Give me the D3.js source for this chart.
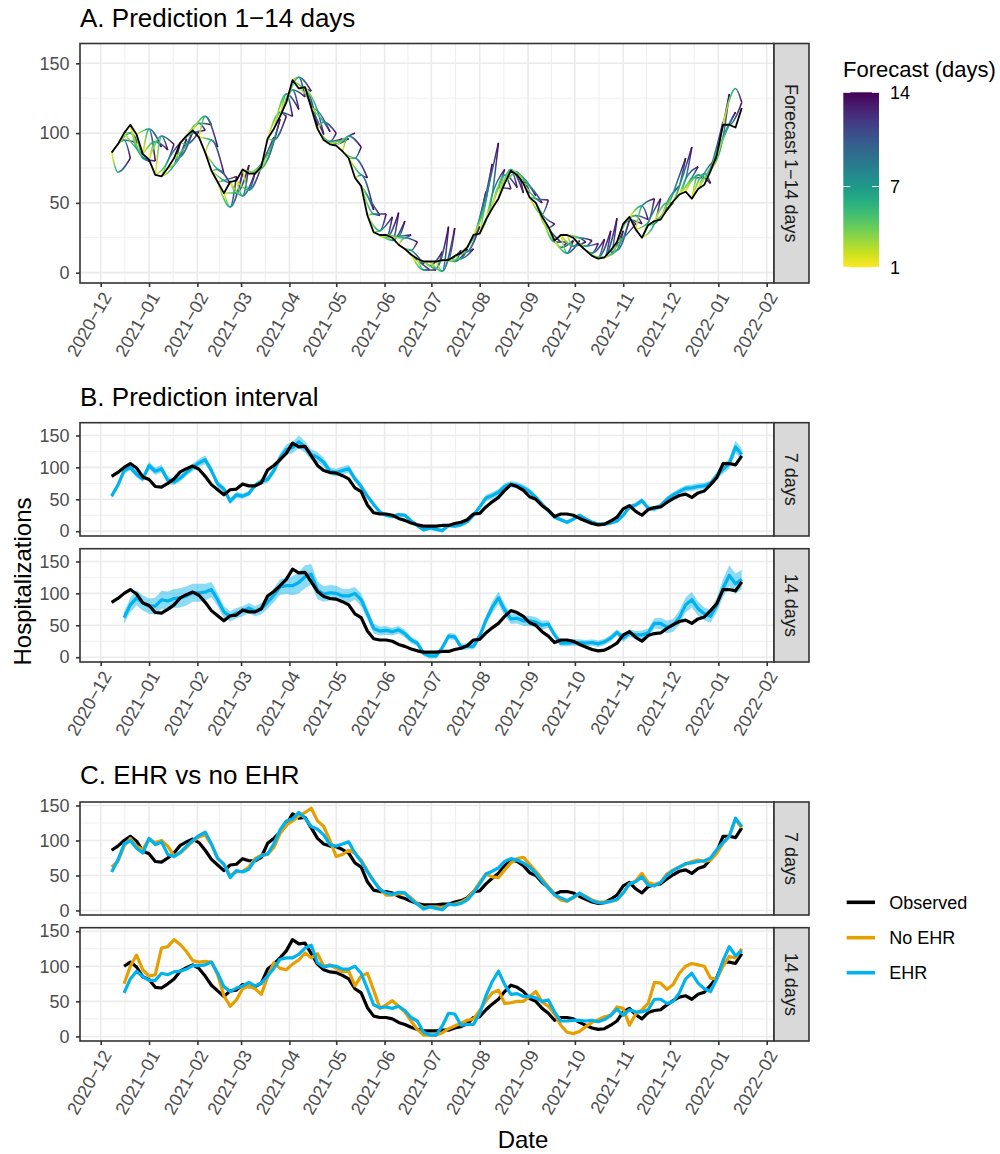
<!DOCTYPE html>
<html>
<head>
<meta charset="utf-8">
<script src="https://cdn.jsdelivr.net/npm/d3@7"></script>
<style>
  body { margin: 0; background: #fff; }
  svg { font-family: "Liberation Sans", Arial, Helvetica, sans-serif; }
</style>
</head>
<body>
<svg id="chart" width="1000" height="1154"></svg>
<script>
const startDate = new Date(2020, 11, 8);
const stepDays = 4;

const observed = [
    86, 92, 100, 106, 99, 85,
    81, 70, 69, 75, 82, 93, 98, 102,
    97, 86, 73, 65, 57, 65, 66,
    74, 71, 71, 76, 96, 103, 112, 122,
    138, 132, 133, 118, 103, 95, 92,
    91, 87, 82, 68, 62, 41, 29, 27,
    27, 25, 20, 17, 13, 10, 8, 8,
    8, 9, 9, 12, 14, 18, 27,
    28, 38, 46, 53, 64, 73, 70, 64,
    54, 50, 40, 33, 23, 27, 27, 25,
    20, 16, 12, 10, 11, 16, 22,
    35, 40, 31, 25, 34, 37, 38, 45,
    51, 56, 58, 53, 60, 63, 73, 84,
    106, 106, 104, 118
];

const ehr7 = [
    55, 72, 95, 100, 89, 82,
    103, 94, 98, 80, 77, 83, 92, 100,
    107, 112, 95, 74, 66, 47, 57,
    55, 59, 72, 78, 81, 95, 115, 128,
    131, 140, 132, 120, 116, 108, 94,
    92, 95, 98, 82, 70, 55, 42, 30,
    25, 23, 26, 25, 16, 9, 2, 5,
    3, 1, 9, 8, 10, 15, 25,
    38, 52, 56, 61, 70, 74, 72, 68,
    62, 53, 42, 32, 22, 18, 14, 19,
    25, 19, 14, 11, 11, 13, 16,
    25, 38, 41, 48, 36, 35, 40, 50,
    57, 62, 67, 68, 70, 71, 75, 87,
    97, 106, 132, 120
];

const noEhr7 = [
    62, 70, 92, 103, 92, 87,
    102, 97, 100, 92, 78, 82, 90, 99,
    105, 108, 94, 75, 66, 50, 55,
    56, 62, 74, 79, 80, 90, 110, 122,
    128, 135, 140, 146, 128, 120, 100,
    77, 80, 86, 82, 72, 57, 42, 31,
    22, 22, 24, 24, 18, 10, 4, 5,
    5, 4, 8, 9, 12, 17, 27,
    40, 52, 48, 47, 58, 68, 74, 76,
    66, 56, 45, 34, 22, 15, 13, 18,
    24, 20, 15, 12, 12, 13, 15,
    25, 38, 42, 53, 40, 37, 40, 52,
    58, 62, 66, 70, 72, 70, 72, 82,
    96, 106, 130, 118
];

const ehr14 = [
    null, null, 62, 82, 93, 85,
    80, 80, 90, 88, 92, 93, 96, 101,
    101, 102, 106, 90, 71, 64, 69,
    72, 77, 72, 76, 86, 97, 110, 112,
    112, 117, 126, 130, 105, 99, 101,
    100, 96, 96, 100, 90, 68, 45, 41,
    42, 40, 43, 37, 27, 22, 6, 2,
    2, 15, 33, 32, 16, 17, 17,
    33, 58, 78, 93, 74, 60, 61, 57,
    57, 55, 50, 52, 35, 22, 22, 23,
    23, 22, 23, 21, 24, 30, 39,
    30, 38, 35, 35, 38, 53, 53, 47,
    50, 62, 82, 90, 76, 68, 64, 82,
    108, 128, 115, 122
];

const noEhr14 = [
    null, null, 75, 100, 116, 95,
    86, 88, 126, 128, 138, 131, 121, 108,
    106, 107, 106, 88, 58, 43, 52,
    68, 72, 68, 60, 85, 105, 97, 95,
    103, 109, 119, 112, 118, 100, 102,
    97, 92, 93, 72, 86, 90, 66, 40,
    45, 51, 43, 35, 22, 10, 2, 2,
    2, 5, 11, 15, 19, 23, 25,
    37, 51, 62, 66, 47, 48, 50, 50,
    57, 64, 49, 43, 32, 16, 6, 4,
    7, 14, 20, 24, 28, 30, 42,
    40, 16, 32, 38, 47, 77, 76, 67,
    74, 90, 100, 104, 102, 100, 83, 82,
    100, 114, 112, 125
];

// half width of the prediction interval
const band7 = [
    4, 4, 5, 5, 5, 5,
    6, 6, 6, 6, 5, 5, 5, 6,
    6, 7, 6, 5, 5, 5, 5,
    4, 4, 4, 5, 5, 6, 7, 8,
    9, 10, 9, 8, 8, 7, 6,
    6, 6, 6, 5, 5, 4, 4, 3,
    3, 3, 3, 3, 3, 3, 3, 3,
    3, 3, 3, 3, 3, 3, 4,
    4, 5, 5, 5, 5, 5, 5, 5,
    5, 4, 4, 3, 3, 3, 3, 3,
    3, 3, 3, 3, 3, 3, 3,
    3, 4, 4, 4, 4, 4, 4, 4,
    4, 5, 5, 5, 5, 5, 5, 6,
    7, 8, 10, 9
];

const band14 = [
    null, null, 9, 11, 12, 12,
    12, 13, 14, 15, 15, 15, 15, 14,
    14, 13, 12, 10, 9, 8, 8,
    8, 8, 8, 9, 10, 11, 12, 13,
    15, 17, 18, 16, 14, 12, 12,
    12, 11, 11, 10, 10, 9, 8, 7,
    7, 6, 6, 6, 5, 5, 4, 4,
    4, 4, 5, 5, 5, 5, 5,
    6, 7, 9, 10, 9, 8, 8, 8,
    8, 8, 7, 6, 5, 5, 5, 5,
    5, 5, 5, 5, 5, 5, 5,
    6, 6, 6, 7, 7, 8, 9, 10,
    10, 11, 12, 12, 11, 10, 10, 11,
    14, 16, 16, 15
];

const yTicks = [0, 50, 100, 150];
const yMinorTicks = [25, 75, 125];
const horizonTicks = [1, 7, 14];
const legendLabels = ["Observed", "No EHR", "EHR"];

const dates = observed.map((_, i) => d3.timeDay.offset(startDate, i * stepDays));

const colObs = "#000000", colNoEhr = "#E69F00", colEhr = "#00B2EE";
const panelLeft = 80, panelRight = 774, stripRight = 809;

const svg = d3.select("#chart");
const defs = svg.append("defs");

const x = d3.scaleTime()
    .domain([new Date(2020, 11, 1), new Date(2022, 1, 1)])
    .range([100.7, 766.7]);

const monthTicks = d3.timeMonth.range(new Date(2020, 11, 1), new Date(2022, 1, 2));
const monthMinor = d3.pairs(monthTicks).map(p => new Date((+p[0] + +p[1]) / 2));

const horizonColor = h => d3.interpolateViridis(1 - (h - 1) / 13);

function drawPanel(top, bottom, yDomain, stripLabel, withXAxis) {
    const y = d3.scaleLinear().domain(yDomain).range([bottom, top]);
    const grid = svg.append("g");
    const layer = svg.append("g");
    const frame = svg.append("g");

    grid.append("rect")
        .attr("x", panelLeft).attr("y", top)
        .attr("width", panelRight - panelLeft).attr("height", bottom - top)
        .attr("fill", "#fff");

    grid.selectAll(null).data(monthMinor).join("line")
        .attr("x1", d => x(d)).attr("x2", d => x(d))
        .attr("y1", top).attr("y2", bottom)
        .attr("stroke", "#EBEBEB").attr("stroke-width", 0.8);
    grid.selectAll(null).data(yMinorTicks).join("line")
        .attr("x1", panelLeft).attr("x2", panelRight)
        .attr("y1", d => y(d)).attr("y2", d => y(d))
        .attr("stroke", "#EBEBEB").attr("stroke-width", 0.8);
    grid.selectAll(null).data(monthTicks).join("line")
        .attr("x1", d => x(d)).attr("x2", d => x(d))
        .attr("y1", top).attr("y2", bottom)
        .attr("stroke", "#EBEBEB").attr("stroke-width", 1.6);
    grid.selectAll(null).data(yTicks).join("line")
        .attr("x1", panelLeft).attr("x2", panelRight)
        .attr("y1", d => y(d)).attr("y2", d => y(d))
        .attr("stroke", "#EBEBEB").attr("stroke-width", 1.6);

    frame.append("rect")
        .attr("x", panelLeft).attr("y", top)
        .attr("width", panelRight - panelLeft).attr("height", bottom - top)
        .attr("fill", "none").attr("stroke", "#333333").attr("stroke-width", 1.6);

    // strip on the right
    frame.append("rect")
        .attr("x", panelRight).attr("y", top)
        .attr("width", stripRight - panelRight).attr("height", bottom - top)
        .attr("fill", "#D9D9D9").attr("stroke", "#333333").attr("stroke-width", 1.6);
    frame.append("text")
        .attr("transform", `translate(${(panelRight + stripRight) / 2},${(top + bottom) / 2}) rotate(90)`)
        .attr("text-anchor", "middle").attr("dy", "0.35em")
        .attr("font-size", 18).attr("fill", "#1A1A1A")
        .text(stripLabel);

    const yAxis = frame.append("g")
        .attr("transform", `translate(${panelLeft},0)`)
        .call(d3.axisLeft(y).tickValues(yTicks).tickSize(4).tickPadding(6.5));
    yAxis.select(".domain").remove();
    yAxis.selectAll("line").attr("stroke", "#333333").attr("stroke-width", 1.6);
    yAxis.selectAll("text").attr("font-size", 18).attr("fill", "#4D4D4D")
        .attr("font-family", null);

    if (withXAxis) {
        const xAxis = frame.append("g")
            .attr("transform", `translate(0,${bottom})`)
            .call(d3.axisBottom(x).tickValues(monthTicks).tickSize(4)
                .tickFormat(d3.timeFormat("%Y\u2212%m")));
        xAxis.select(".domain").remove();
        xAxis.selectAll("line").attr("stroke", "#333333").attr("stroke-width", 1.6);
        xAxis.selectAll("text")
            .attr("font-size", 18).attr("fill", "#4D4D4D").attr("font-family", null)
            .attr("y", 0).attr("x", 0).attr("dy", "0.71em")
            .attr("text-anchor", "end")
            .attr("transform", "translate(0,7.5) rotate(-60)");
    }
    return { y, layer };
}

function pairs(values) {
    return dates.map((d, i) => [d, values[i]]);
}

function drawLine(panel, values, color, width, fromIndex = 0) {
    const line = d3.line()
        .defined((d, i) => d[1] != null && i >= fromIndex)
        .x(d => x(d[0]))
        .y(d => panel.y(d[1]));
    panel.layer.append("path")
        .attr("d", line(pairs(values)))
        .attr("fill", "none")
        .attr("stroke", color)
        .attr("stroke-width", width)
        .attr("stroke-linejoin", "round");
}

function drawBand(panel, values, half) {
    const area = d3.area()
        .defined(d => d.v != null && d.w != null)
        .x(d => x(d.date))
        .y0(d => panel.y(d.v - d.w))
        .y1(d => panel.y(d.v + d.w));
    panel.layer.append("path")
        .attr("d", area(dates.map((date, i) => ({ date, v: values[i], w: half[i] }))))
        .attr("fill", colEhr).attr("fill-opacity", 0.45);
}

function title(text, baseline) {
    svg.append("text").attr("x", 80).attr("y", baseline)
        .attr("font-size", 26).attr("fill", "#000").text(text);
}

// ---------- A ----------
title("A. Prediction 1\u221214 days", 26.7);
const panelA = drawPanel(43.5, 283, [-7.4, 164.2], "Forecast 1\u221214 days", true);

// forecast paths: day 1 near observed, day 7 from the 7-day series, day 14 from the 14-day series.
// two variants per origin (7-day point one or two steps ahead) since the series are 4-day samples
let gradId = 0;
function forecastPath(pts) {
    if (pts.some(p => p[1] == null)) return;
    const x0 = x(pts[0][0]), x2 = x(pts[2][0]);
    const mid = (x(pts[1][0]) - x0) / (x2 - x0);
    const id = "traj" + (gradId++);
    const grad = defs.append("linearGradient")
        .attr("id", id)
        .attr("gradientUnits", "userSpaceOnUse")
        .attr("x1", x0).attr("x2", x2).attr("y1", 0).attr("y2", 0);
    d3.range(1, 15).forEach(h => {
        const off = h <= 7 ? (h - 1) / 6 * mid : mid + (h - 7) / 7 * (1 - mid);
        grad.append("stop").attr("offset", off).attr("stop-color", horizonColor(h));
    });
    panelA.layer.append("path")
        .attr("d", d3.line().curve(d3.curveMonotoneX).x(p => x(p[0])).y(p => panelA.y(p[1]))(pts))
        .attr("fill", "none")
        .attr("stroke", `url(#${id})`)
        .attr("stroke-width", 1.5);
}
d3.range(0, dates.length - 3).forEach(i => {
    forecastPath([[dates[i], observed[i]], [dates[i + 1], ehr7[i + 1]], [dates[i + 3], ehr14[i + 3]]]);
    forecastPath([[dates[i], observed[i]], [dates[i + 2], ehr7[i + 2]], [dates[i + 3], ehr14[i + 3]]]);
});
drawLine(panelA, observed, colObs, 1.8);

// colour bar legend
svg.append("text").attr("x", 843).attr("y", 77.3)
    .attr("font-size", 22).attr("fill", "#000").text("Forecast (days)");
const barGrad = defs.append("linearGradient").attr("id", "bar")
    .attr("x1", 0).attr("y1", 1).attr("x2", 0).attr("y2", 0);
d3.range(1, 15).forEach(h => {
    barGrad.append("stop").attr("offset", (h - 1) / 13).attr("stop-color", horizonColor(h));
});
const barX = 843.3, barW = 35.7;
const barY = d3.scaleLinear().domain([1, 14]).range([267.3, 92.3]);
svg.append("rect").attr("x", barX).attr("y", barY(14))
    .attr("width", barW).attr("height", barY(1) - barY(14))
    .attr("fill", "url(#bar)");
horizonTicks.forEach(h => {
    svg.append("line").attr("x1", barX).attr("x2", barX + 7)
        .attr("y1", barY(h)).attr("y2", barY(h)).attr("stroke", "#fff").attr("stroke-width", 1);
    svg.append("line").attr("x1", barX + barW - 7).attr("x2", barX + barW)
        .attr("y1", barY(h)).attr("y2", barY(h)).attr("stroke", "#fff").attr("stroke-width", 1);
    svg.append("text").attr("x", 890).attr("y", barY(h)).attr("dy", "0.35em")
        .attr("font-size", 18).attr("fill", "#000").text(h);
});

// ---------- B ----------
title("B. Prediction interval", 406);
const panelB7 = drawPanel(422.7, 536, [-7.5, 170], "7 days", false);
drawBand(panelB7, ehr7, band7);
drawLine(panelB7, ehr7, colEhr, 3.2);
drawLine(panelB7, observed, colObs, 3.2);

const panelB14 = drawPanel(548.7, 662, [-7.5, 170], "14 days", true);
drawBand(panelB14, ehr14, band14);
drawLine(panelB14, ehr14, colEhr, 3.2);
drawLine(panelB14, observed, colObs, 3.2);

// ---------- C ----------
title("C. EHR vs no EHR", 784);
const panelC7 = drawPanel(802, 915, [-6.5, 155], "7 days", false);
drawLine(panelC7, observed, colObs, 3.2);
drawLine(panelC7, noEhr7, colNoEhr, 3.2);
drawLine(panelC7, ehr7, colEhr, 3.2);

const panelC14 = drawPanel(927.7, 1041, [-6.5, 155], "14 days", true);
drawLine(panelC14, observed, colObs, 3.2, 2);
drawLine(panelC14, noEhr14, colNoEhr, 3.2);
drawLine(panelC14, ehr14, colEhr, 3.2);

// legend for C
const legendColors = [colObs, colNoEhr, colEhr];
const legendY = [902.3, 937.7, 972.7];
legendLabels.forEach((label, i) => {
    svg.append("line").attr("x1", 846.7).attr("x2", 875)
        .attr("y1", legendY[i]).attr("y2", legendY[i])
        .attr("stroke", legendColors[i]).attr("stroke-width", 3.6);
    svg.append("text").attr("x", 889.3).attr("y", legendY[i]).attr("dy", "0.35em")
        .attr("font-size", 18).attr("fill", "#000").text(label);
});

// shared axis titles
svg.append("text")
    .attr("transform", "translate(30.5,581.5) rotate(-90)")
    .attr("text-anchor", "middle")
    .attr("font-size", 24).attr("fill", "#000")
    .text("Hospitalizations");
svg.append("text")
    .attr("x", 523).attr("y", 1148)
    .attr("text-anchor", "middle")
    .attr("font-size", 24).attr("fill", "#000")
    .text("Date");
</script>
</body>
</html>
